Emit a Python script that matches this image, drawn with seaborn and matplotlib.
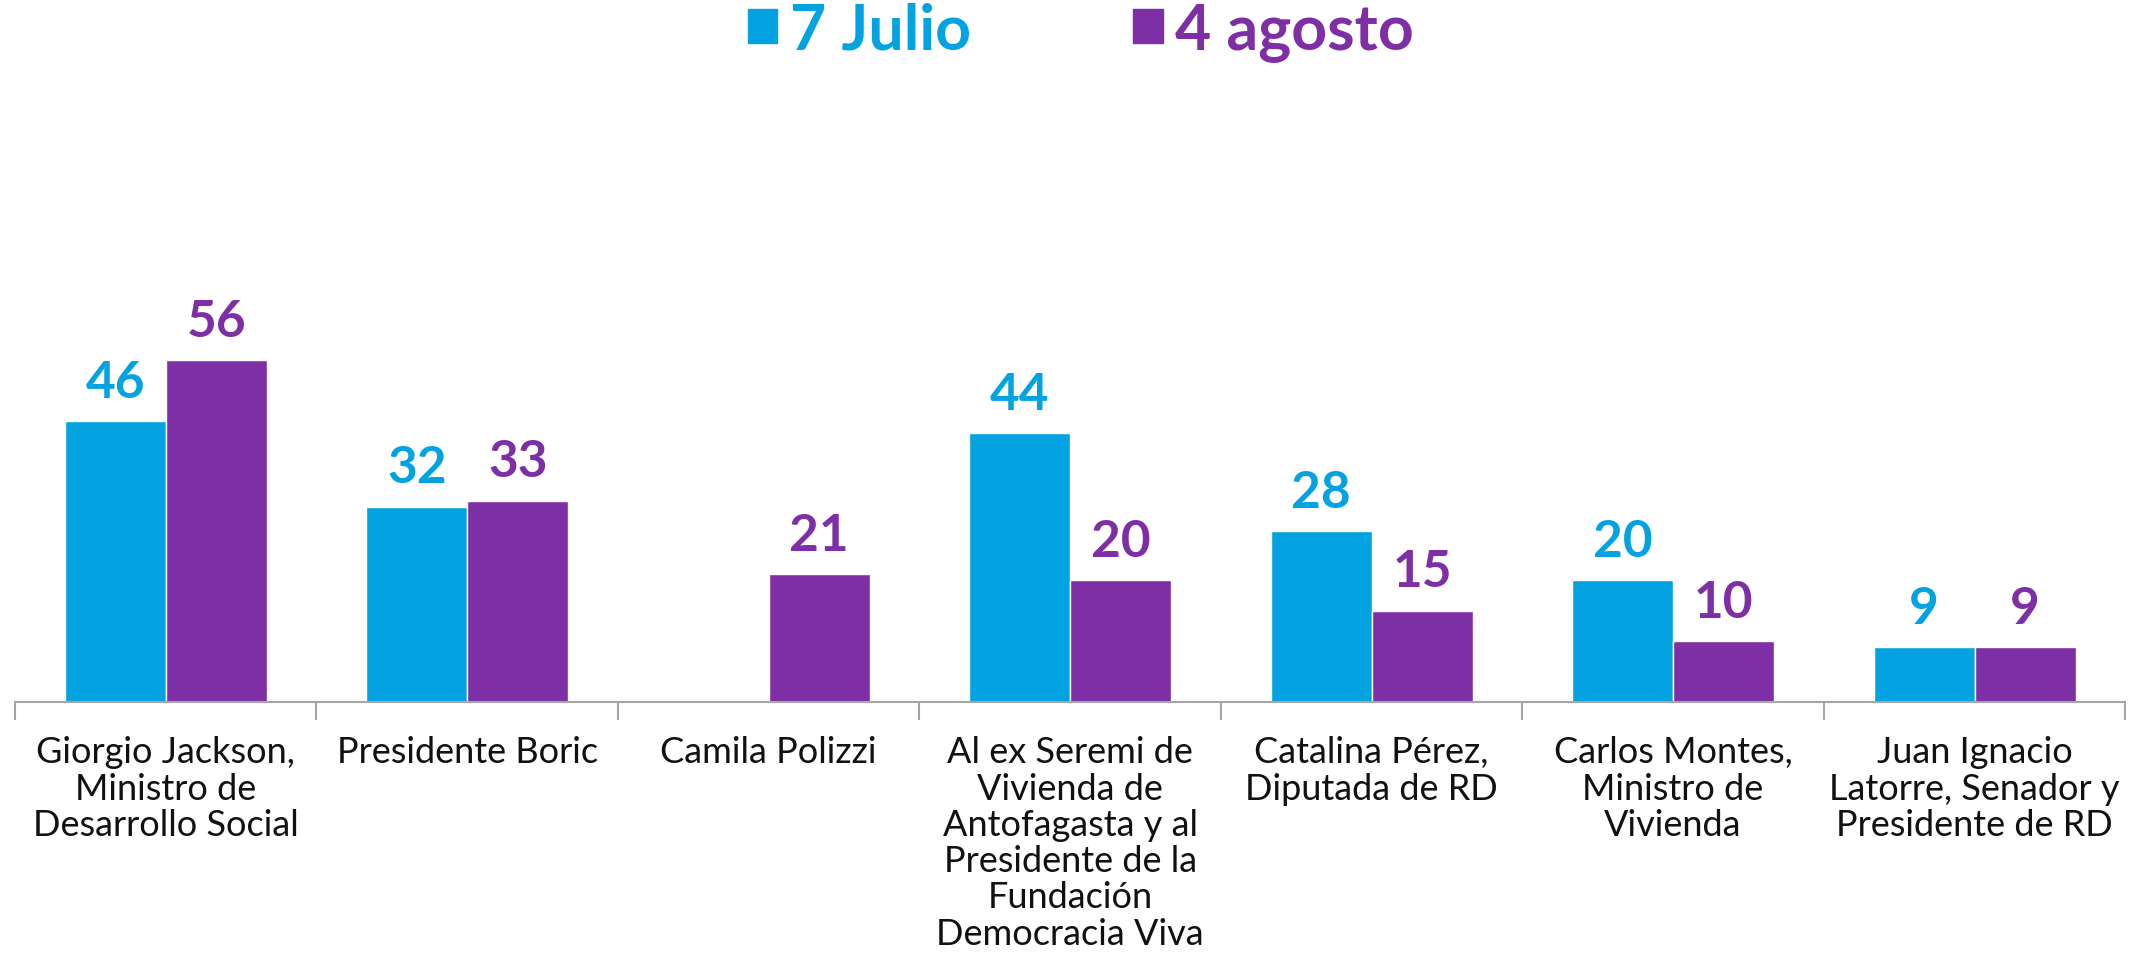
import matplotlib
matplotlib.use('AGG')
import matplotlib.pyplot as plt
import seaborn as sns
import pandas as pd
import numpy as np
from matplotlib.patches import Patch

# categories as printed under the axis
categories = [
    "Giorgio Jackson,\nMinistro de\nDesarrollo Social",
    "Presidente Boric",
    "Camila Polizzi",
    "Al ex Seremi de\nVivienda de\nAntofagasta y al\nPresidente de la\nFundación\nDemocracia Viva",
    "Catalina Pérez,\nDiputada de RD",
    "Carlos Montes,\nMinistro de\nVivienda",
    "Juan Ignacio\nLatorre, Senador y\nPresidente de RD",
]
series = ["7 Julio", "4 agosto"]
julio = [46, 32, np.nan, 44, 28, 20, 9]
agosto = [56, 33, 21, 20, 15, 10, 9]
colors = ["#02A3E0", "#7E2FA5"]


def build_frame():
    rows = []
    for cat, j, a in zip(categories, julio, agosto):
        rows.append((cat, series[0], j))
        rows.append((cat, series[1], a))
    return pd.DataFrame(rows, columns=["categoria", "fecha", "valor"])


def main():
    sns.set_style("white")
    plt.rcParams['font.family'] = ['Lato', 'DejaVu Sans']

    df = build_frame()
    fig = plt.figure(figsize=(21.36, 9.54), dpi=100)
    ax = fig.add_axes([0.007, 0.263, 0.988, 0.448])

    sns.barplot(data=df, x="categoria", y="valor", hue="fecha",
                hue_order=series, order=categories, palette=colors,
                width=0.67, saturation=1, legend=False, ax=ax)

    for cont, col in zip(ax.containers, colors):
        ax.bar_label(cont, fmt="%.0f", padding=11, color=col,
                     fontsize=37, fontweight="bold")

    ax.set_ylim(0, 70)
    ax.set_xlim(-0.5, len(categories) - 0.5)
    ax.set_xlabel("")
    ax.set_ylabel("")
    ax.set_yticks([])
    for side in ["top", "right", "left"]:
        ax.spines[side].set_visible(False)
    ax.spines["bottom"].set_color("#A6A6A6")
    ax.spines["bottom"].set_linewidth(1.5)

    ax.set_xticks(range(len(categories)))
    ax.set_xticklabels(categories, fontsize=26, color="#111111",
                       linespacing=1.12)
    ax.tick_params(axis="x", which="major", length=0, pad=24)
    ax.set_xticks(np.arange(-0.5, len(categories), 1.0), minor=True)
    ax.tick_params(axis="x", which="minor", bottom=True, length=13, width=1.5,
                   color="#A6A6A6", direction="out")

    handles = [Patch(color=c) for c in colors]
    leg = fig.legend(handles, series, loc="center", bbox_to_anchor=(0.506, 0.966),
                     ncol=2, frameon=False, handlelength=0.47, handleheight=0.47,
                     handletextpad=0.2, columnspacing=2.6,
                     prop={"size": 45, "weight": "bold"})
    for txt, c in zip(leg.get_texts(), colors):
        txt.set_color(c)

    fig.savefig("out.png", dpi=100)


if __name__ == "__main__":
    main()
